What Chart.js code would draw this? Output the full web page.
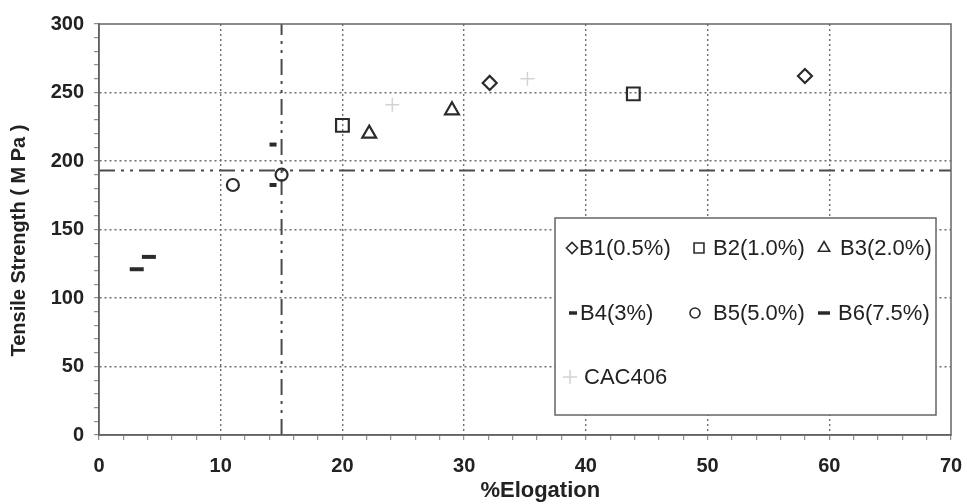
<!DOCTYPE html>
<html>
<head>
<meta charset="utf-8">
<script src="https://cdn.jsdelivr.net/npm/chart.js@4.4.1/dist/chart.umd.min.js"></script>
<style>
  html, body { margin: 0; padding: 0; background: #fff; }
  #wrap { width: 967px; height: 504px; }
</style>
</head>
<body>
<div id="wrap"><canvas id="tensileChart" width="967" height="504"></canvas></div>
<script>
// --- data ---
const seriesNames = ['B1(0.5%)', 'B2(1.0%)', 'B3(2.0%)', 'B4(3%)', 'B5(5.0%)', 'B6(7.5%)', 'CAC406'];

const b1Elong = [32.1, 58.0];
const b1Strength = [257, 262];
const b2Elong = [20.0, 43.9];
const b2Strength = [226, 249];
const b3Elong = [22.2, 29.0];
const b3Strength = [220, 237];
const b4Elong = [14.3, 14.3];
const b4Strength = [212, 182.5];
const b5Elong = [11.0, 15.0];
const b5Strength = [182.5, 190];
const b6Elong = [3.1, 4.1];
const b6Strength = [121, 130];
const cacElong = [24.1, 35.2];
const cacStrength = [241, 260];

// reference lines (dash-dot-dot)
const refElongation = 15;
const refStrength = 193;

const xTicks = [0, 10, 20, 30, 40, 50, 60, 70];
const yTicks = [0, 50, 100, 150, 200, 250, 300];

const toPoints = (xs, ys) => xs.map((x, i) => ({ x: x, y: ys[i] }));

const ink = '#2b2b2b';
const fontFamily = '"Liberation Sans", Arial, sans-serif';

function markerSet(label, xs, ys, style, radius, width, color) {
    return {
        label: label,
        data: toPoints(xs, ys),
        pointStyle: style,
        pointRadius: radius,
        pointHoverRadius: radius,
        pointBorderWidth: width,
        pointBorderColor: color || ink,
        pointBackgroundColor: 'rgba(0,0,0,0)',
        showLine: false
    };
}

const datasets = [
    markerSet(seriesNames[0], b1Elong, b1Strength, 'rectRot', 7, 2.2),
    markerSet(seriesNames[1], b2Elong, b2Strength, 'rect', 9, 2.2),
    markerSet(seriesNames[2], b3Elong, b3Strength, 'triangle', 8, 2.2),
    markerSet(seriesNames[3], b4Elong, b4Strength, 'line', 3.5, 4),
    markerSet(seriesNames[4], b5Elong, b5Strength, 'circle', 6, 2.2),
    markerSet(seriesNames[5], b6Elong, b6Strength, 'line', 7, 4),
    markerSet(seriesNames[6], cacElong, cacStrength, 'cross', 7, 1.5, '#d4d4d4'),
    {
        label: 'refH',
        data: [{ x: 0, y: refStrength }, { x: 70, y: refStrength }],
        showLine: true, pointRadius: 0, borderColor: '#4a4a4a', borderWidth: 2,
        borderDash: [16, 6, 3, 6, 3, 6]
    },
    {
        label: 'refV',
        data: [{ x: refElongation, y: 0 }, { x: refElongation, y: 300 }],
        showLine: true, pointRadius: 0, borderColor: '#4a4a4a', borderWidth: 2,
        borderDash: [16, 6, 3, 6, 3, 6]
    }
];

// --- legend box drawn inside the plot ---
const legendLayout = {
    box: { left: 555, top: 218, right: 936, bottom: 415 },
    items: [
        { i: 0, mx: 572, tx: 579, y: 248 },
        { i: 1, mx: 699, tx: 713, y: 248 },
        { i: 2, mx: 824, tx: 840, y: 248 },
        { i: 3, mx: 573, tx: 580, y: 313 },
        { i: 4, mx: 695, tx: 713, y: 313 },
        { i: 5, mx: 824, tx: 838, y: 313 },
        { i: 6, mx: 570, tx: 584, y: 377 }
    ]
};
const legendRadius = { rectRot: 5.5, rect: 7, triangle: 6.5, line: 4, circle: 5, cross: 7 };

const boxLegend = {
    id: 'boxLegend',
    afterDatasetsDraw(chart) {
        const ctx = chart.ctx;
        const b = legendLayout.box;
        ctx.save();
        ctx.fillStyle = '#fff';
        ctx.fillRect(b.left, b.top, b.right - b.left, b.bottom - b.top);
        ctx.strokeStyle = '#666';
        ctx.lineWidth = 1.5;
        ctx.strokeRect(b.left, b.top, b.right - b.left, b.bottom - b.top);
        legendLayout.items.forEach(item => {
            const ds = chart.data.datasets[item.i];
            let r = legendRadius[ds.pointStyle];
            if (item.i === 5) r = 6;
            ctx.strokeStyle = ds.pointBorderColor;
            ctx.fillStyle = 'rgba(0,0,0,0)';
            ctx.lineWidth = ds.pointStyle === 'line' ? 3.5 : 1.6;
            Chart.helpers.drawPoint(ctx, { pointStyle: ds.pointStyle, radius: r, rotation: 0, borderWidth: ctx.lineWidth }, item.mx, item.y);
            ctx.fillStyle = '#222';
            ctx.font = '22px ' + fontFamily;
            ctx.textBaseline = 'middle';
            ctx.textAlign = 'left';
            ctx.fillText(ds.label, item.tx, item.y + 1);
        });
        ctx.restore();
    }
};

// frame round the plot area (top and right sides)
const plotFrame = {
    id: 'plotFrame',
    afterDraw(chart) {
        const a = chart.chartArea;
        const ctx = chart.ctx;
        ctx.save();
        ctx.strokeStyle = '#666';
        ctx.lineWidth = 1.5;
        ctx.strokeRect(a.left, a.top, a.right - a.left, a.bottom - a.top);
        ctx.restore();
    }
};

const gridColor = (ticks, lo, hi) => ctx => {
    const v = ctx.tick ? ctx.tick.value : null;
    if (v === null || v === lo || v === hi) return 'rgba(0,0,0,0)';
    return ticks.includes(v) ? '#6f6f6f' : 'rgba(0,0,0,0)';
};

document.addEventListener('DOMContentLoaded', function() {
    const canvas = document.getElementById('tensileChart');
    new Chart(canvas, {
        type: 'scatter',
        data: { datasets: datasets },
        plugins: [boxLegend, plotFrame],
        options: {
            responsive: false,
            animation: false,
            layout: { padding: { top: 24, right: 16, left: 0, bottom: 0 } },
            plugins: { legend: { display: false }, tooltip: { enabled: false } },
            scales: {
                x: {
                    type: 'linear', min: 0, max: 70,
                    afterFit: scale => {
                        scale.height = 69;
                        scale.paddingLeft = 0;
                        scale.paddingRight = 0;
                    },
                    ticks: {
                        stepSize: 2, autoSkip: false, maxRotation: 0,
                        callback: v => xTicks.includes(v) ? String(v) : '',
                        color: '#222', padding: 14,
                        font: { family: fontFamily, size: 20, weight: 'bold' }
                    },
                    grid: {
                        color: gridColor(xTicks, 0, 70), lineWidth: 1.4,
                        tickColor: '#777', tickLength: 5, tickBorderDash: [], tickWidth: 1
                    },
                    border: { display: true, color: '#555', width: 1.5, dash: [2, 3] },
                    title: {
                        display: true, text: '     %Elogation', color: '#222',
                        padding: { top: 0, bottom: 0 },
                        font: { family: fontFamily, size: 22, weight: 'bold' }
                    }
                },
                y: {
                    type: 'linear', min: 0, max: 300,
                    afterFit: scale => { scale.width = 99; },
                    ticks: {
                        stepSize: 10, autoSkip: false,
                        callback: v => yTicks.includes(v) ? String(v) : '',
                        color: '#222', padding: 10,
                        font: { family: fontFamily, size: 20, weight: 'bold' }
                    },
                    grid: {
                        color: gridColor(yTicks, 0, 300), lineWidth: 1.4,
                        tickColor: '#777', tickLength: 5, tickBorderDash: [], tickWidth: 1
                    },
                    border: { display: true, color: '#555', width: 1.5, dash: [2, 3] },
                    title: {
                        display: true, text: 'Tensile Strength ( M Pa )    ', color: '#222',
                        padding: { top: 7, bottom: 0 },
                        font: { family: fontFamily, size: 20, weight: 'bold' }
                    }
                }
            }
        }
    });
});
</script>
</body>
</html>
